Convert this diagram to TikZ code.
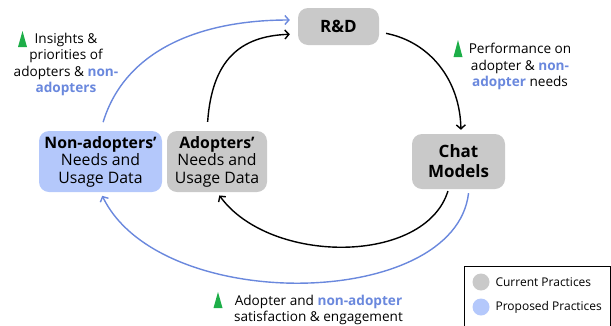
\documentclass[tikz,border=0pt]{standalone}
\usepackage{fontspec}
\setmainfont{Open Sans}
\usetikzlibrary{arrows.meta, positioning}
\definecolor{boxgray}{HTML}{C9C9C9}
\definecolor{boxblue}{HTML}{B4C8FB}
\definecolor{lineblue}{HTML}{6A88DD}
\definecolor{upgreen}{HTML}{1DAE48}

\begin{document}
\begin{tikzpicture}[
  x=1pt, y=-1pt,
  >={Straight Barb[length=4pt, width=9pt]},
  box/.style={rounded corners=10pt, align=center, inner sep=0pt,
    font=\fontsize{15.8}{17.5}\selectfont},
  bigbox/.style={box, font=\fontsize{17}{20}\bfseries\selectfont},
  lbl/.style={align=center, font=\fontsize{13.6}{16.3}\selectfont},
  flow/.style={->, line width=1.4pt},
  hi/.style={text=lineblue, font=\bfseries}
]
\useasboundingbox (0,0) rectangle (611,325);
\newcommand{\nonad}[1]{\textcolor{lineblue}{\textbf{#1}}}

% main boxes
\node[bigbox, fill=boxgray, minimum width=81pt, minimum height=37pt] (rd) at (338.5,26.5) {R\&D};
\node[bigbox, fill=boxgray, minimum width=93pt, minimum height=55pt] (chat) at (458.5,161.5) {Chat\\Models};
\node[box, fill=boxgray, minimum width=100pt, minimum height=61pt] (adopt) at (217,161.5)
  {\textbf{Adopters’}\\Needs and\\Usage Data};
\node[box, fill=boxblue, minimum width=123pt, minimum height=61pt] (nonadopt) at (100.5,161.5)
  {\textbf{Non-adopters’}\\Needs and\\Usage Data};

% feedback loops
\draw[flow, lineblue, shorten <=9pt, shorten >=8pt] (nonadopt.north)
  .. controls (125,50) and (200,20) .. ([yshift=6.5pt]rd.west);
\draw[flow, shorten <=9pt, shorten >=8pt] ([xshift=-10pt]adopt.north)
  .. controls (212,60) and (240,36) .. ([yshift=-7.5pt]rd.west);
\draw[flow, shorten <=7pt, shorten >=4pt] ([yshift=-5.5pt]rd.east)
  .. controls (430,42) and (460,80) .. ([xshift=2.5pt]chat.north);
\draw[flow, shorten <=2pt, shorten >=4pt] ([xshift=-10pt]chat.south)
  .. controls (425,265) and (270,265) .. (adopt.south);
\draw[flow, lineblue, shorten <=4pt, shorten >=4pt] ([xshift=10.5pt]chat.south)
  .. controls (455,310) and (160,315) .. (nonadopt.south);

% labels with up markers
\node[lbl] (insights) at (66,64.5)
  {Insights \&\\priorities of\\adopters \& \nonad{non-}\\\nonad{adopters}};
\fill[upgreen] (18,47) -- (22.5,31) -- (27,47) -- cycle;
\node[lbl] (perf) at (520,66.5)
  {Performance on\\adopter \& \nonad{non-}\\\nonad{adopter} needs};
\fill[upgreen] (453.5,57) -- (458,40) -- (462.5,57) -- cycle;
\node[lbl] (satis) at (318.5,310)
  {Adopter and \nonad{non-adopter}\\satisfaction \& engagement};
\fill[upgreen] (213.5,308) -- (218,292) -- (222.5,308) -- cycle;

% legend
\node[draw, line width=0.9pt, minimum width=146pt, minimum height=60pt] (legend) at (537,296) {};
\fill[boxgray] (481,282) circle (8.5pt);
\fill[boxblue] (481,307) circle (8.5pt);
\node[lbl, anchor=west, font=\fontsize{12}{14}\selectfont] (cur) at (492,282) {Current Practices};
\node[lbl, anchor=west, font=\fontsize{12}{14}\selectfont] (prop) at (492,307) {Proposed Practices};
\end{tikzpicture}
\end{document}
